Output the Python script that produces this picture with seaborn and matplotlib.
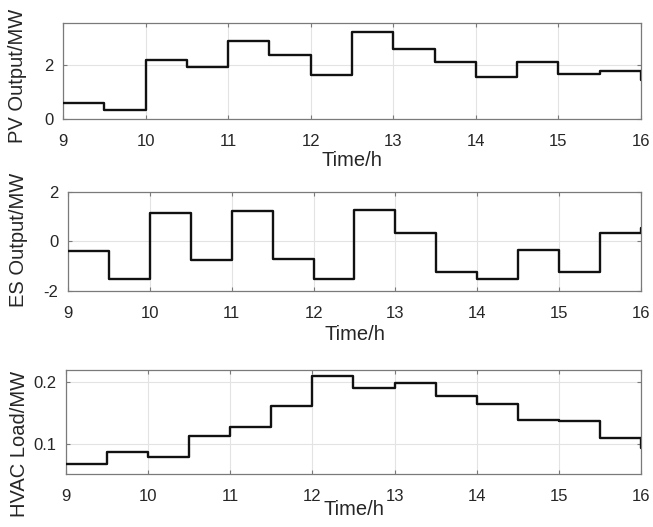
import numpy as np
import pandas as pd
import matplotlib
matplotlib.use("Agg")
import matplotlib.pyplot as plt
import seaborn as sns

# ---- data (half-hour steps, 9:00 to 16:00) ----
time_h = [9.0, 9.5, 10.0, 10.5, 11.0, 11.5, 12.0, 12.5, 13.0, 13.5, 14.0, 14.5, 15.0, 15.5, 16.0]
pv_output = [0.58, 0.33, 2.17, 1.93, 2.87, 2.36, 1.62, 3.20, 2.60, 2.11, 1.55, 2.11, 1.67, 1.77, 1.44]
es_output = [-0.39, -1.53, 1.15, -0.73, 1.25, -0.69, -1.53, 1.29, 0.36, -1.23, -1.53, -0.33, -1.23, 0.36, 0.55]
hvac_load = [0.068, 0.0874, 0.079, 0.1137, 0.1284, 0.1623, 0.2104, 0.1907, 0.1989, 0.1776, 0.165, 0.1393, 0.1377, 0.1098, 0.094]

x_ticks = [9, 10, 11, 12, 13, 14, 15, 16]
xlabel = "Time/h"
ylabels = ["PV Output/MW", "ES Output/MW", "HVAC Load/MW"]
y_ticks = [[0, 2], [-2, 0, 2], [0.1, 0.2]]
y_ticklabels = [["0", "2"], ["-2", "0", "2"], ["0.1", "0.2"]]
y_limits = [(0, 3.55), (-2, 2), (0.0514, 0.2202)]

sns.set_theme(style="white")
plt.rcParams["font.family"] = ["Liberation Sans", "DejaVu Sans"]
plt.rcParams["axes.unicode_minus"] = False

W, H = 653, 527
fig = plt.figure(figsize=(W / 100, H / 100), dpi=100)
fig.patch.set_facecolor("white")

# axes boxes in pixels: left, top, right, bottom
boxes = [(63, 23, 641, 119), (68, 192, 641, 291), (66, 370, 641, 474)]
label_pos = [(27, 76), (28, 240), (29, 444)]
xlabel_pads = [1.5, 2.5, -3.0]

df = pd.DataFrame({"t": time_h, "pv": pv_output, "es": es_output, "hvac": hvac_load})
cols = ["pv", "es", "hvac"]

spine_c = "#7a7a7a"
text_c = "#262626"

for i, (l, t, r, b) in enumerate(boxes):
    ax = fig.add_axes([l / W, 1 - b / H, (r - l) / W, (b - t) / H])
    sns.lineplot(data=df, x="t", y=cols[i], ax=ax, drawstyle="steps-post",
                 color="#111111", linewidth=1.7, zorder=3)
    ax.set_xlim(9, 16)
    ax.set_ylim(*y_limits[i])
    ax.set_xticks(x_ticks)
    ax.set_xticklabels([str(v) for v in x_ticks])
    ax.set_yticks(y_ticks[i])
    ax.set_yticklabels(y_ticklabels[i])
    ax.grid(True, color="#e3e3e3", linewidth=0.8, zorder=0)
    for s in ax.spines.values():
        s.set_visible(True)
        s.set_color(spine_c)
        s.set_linewidth(0.9)
    ax.tick_params(axis="both", direction="in", length=3, width=0.8, color=spine_c,
                   labelsize=12, labelcolor=text_c, top=True, right=True,
                   bottom=True, left=True)
    ax.tick_params(axis="x", pad=11)
    ax.tick_params(axis="y", pad=7)
    ax.set_xlabel(xlabel, fontsize=14.5, color=text_c, labelpad=xlabel_pads[i])
    ax.set_ylabel(ylabels[i], fontsize=14.5, color=text_c)
    ax.yaxis.set_label_coords(label_pos[i][0] / W, 1 - label_pos[i][1] / H,
                              transform=fig.transFigure)
    ax.set_facecolor("white")

fig.savefig("out.png", dpi=100)
